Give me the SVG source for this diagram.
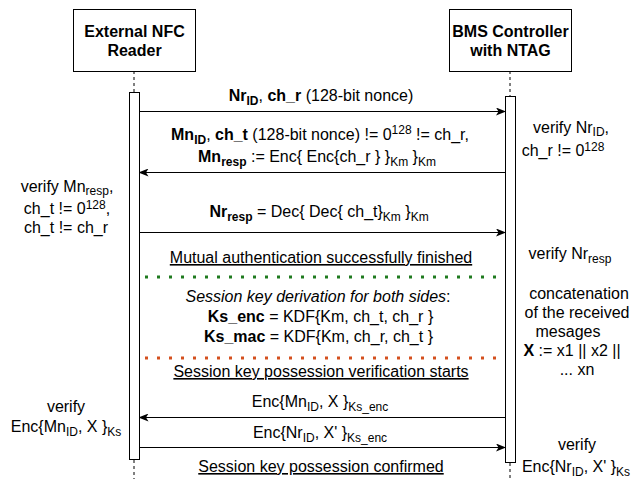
<svg xmlns="http://www.w3.org/2000/svg" width="635" height="479" viewBox="0 0 635 479">
<style>
text{font-family:"Liberation Sans",Arial,sans-serif;font-size:16px;fill:#000}
.c{text-anchor:middle}
.b{font-weight:bold}
.s{font-size:12px}
.u{text-decoration:underline}
.i{font-style:italic}
.box{fill:#fff;stroke:#000;stroke-width:1}
.life{stroke:#000;stroke-width:1;stroke-dasharray:3 3;fill:none}
.msg{stroke:#000;stroke-width:1;fill:none}
</style>
<defs>
<marker id="ah" markerUnits="userSpaceOnUse" markerWidth="10" markerHeight="8" refX="9" refY="4" orient="auto">
<path d="M0,0 L10,4 L0,8 L2.5,4 z" fill="#000"/>
</marker>
</defs>
<g id="reader">
<line class="life" x1="134" y1="71" x2="134" y2="92"/>
<line class="life" x1="134" y1="460" x2="134" y2="479"/>
<rect class="box" x="73.5" y="9.5" width="122" height="62"/>
<text class="c b" x="134.5" y="37">External NFC</text>
<text class="c b" x="134.5" y="56">Reader</text>
<rect class="box" x="129.5" y="92.5" width="10" height="367"/>
</g>
<g id="bms">
<line class="life" x1="510" y1="71" x2="510" y2="96"/>
<line class="life" x1="510" y1="463" x2="510" y2="479"/>
<rect class="box" x="449.5" y="9.5" width="122" height="62"/>
<text class="c b" x="510.5" y="37">BMS Controller</text>
<text class="c b" x="510.5" y="56">with NTAG</text>
<rect class="box" x="505.5" y="96.5" width="10" height="366"/>
</g>
<g id="connectors">
<line class="msg" x1="139.5" y1="111.5" x2="505" y2="111.5" marker-end="url(#ah)"/>
<line class="msg" x1="505" y1="172.5" x2="139.5" y2="172.5" marker-end="url(#ah)"/>
<line class="msg" x1="139.5" y1="232.5" x2="505" y2="232.5" marker-end="url(#ah)"/>
<line x1="145" y1="277" x2="505" y2="277" stroke="#1F7A1F" stroke-width="3" stroke-dasharray="3 9"/>
<line x1="145" y1="358" x2="505" y2="358" stroke="#D4501E" stroke-width="3" stroke-dasharray="3 9"/>
<line class="msg" x1="505" y1="417.5" x2="139.5" y2="417.5" marker-end="url(#ah)"/>
<line class="msg" x1="139.5" y1="447.5" x2="505" y2="447.5" marker-end="url(#ah)"/>
</g>
<g id="labels">
<text class="c" x="321" y="101"><tspan class="b">Nr</tspan><tspan class="b s" dy="4">ID</tspan><tspan dy="-4">, </tspan><tspan class="b">ch_r</tspan> (128-bit nonce)</text>
<text class="c" x="320" y="140"><tspan class="b">Mn</tspan><tspan class="b s" dy="4">ID</tspan><tspan dy="-4">, </tspan><tspan class="b">ch_t</tspan> (128-bit nonce) != 0<tspan class="s" dy="-6">128</tspan><tspan dy="6"> != ch_r,</tspan></text>
<text class="c" x="317" y="162"><tspan class="b">Mn</tspan><tspan class="b s" dy="4">resp</tspan><tspan dy="-4"> := Enc{ Enc{ch_r } }</tspan><tspan class="s" dy="4">Km</tspan><tspan dy="-4"> }</tspan><tspan class="s" dy="4">Km</tspan></text>
<text class="c" x="319" y="217"><tspan class="b">Nr</tspan><tspan class="b s" dy="4">resp</tspan><tspan dy="-4"> = Dec{ Dec{ ch_t}</tspan><tspan class="s" dy="4">Km</tspan><tspan dy="-4"> }</tspan><tspan class="s" dy="4">Km</tspan></text>
<text class="c u" x="321" y="263">Mutual authentication successfully finished</text>
<text class="c" x="318" y="302"><tspan class="i">Session key derivation for both sides</tspan>:</text>
<text class="c" x="320.5" y="322"><tspan class="b">Ks_enc</tspan> = KDF{Km, ch_t, ch_r }</text>
<text class="c" x="318.5" y="342"><tspan class="b">Ks_mac</tspan> = KDF{Km, ch_r, ch_t }</text>
<text class="c u" x="321" y="377">Session key possession verification starts</text>
<text class="c" x="320" y="407">Enc{Mn<tspan class="s" dy="4">ID</tspan><tspan dy="-4">, X }</tspan><tspan class="s" dy="4">Ks_enc</tspan></text>
<text class="c" x="320" y="438">Enc{Nr<tspan class="s" dy="4">ID</tspan><tspan dy="-4">, X' }</tspan><tspan class="s" dy="4">Ks_enc</tspan></text>
<text class="c u" x="321" y="472">Session key possession confirmed</text>
</g>
<g id="notes-left">
<text class="c" x="67" y="192">verify Mn<tspan class="s" dy="3">resp</tspan><tspan dy="-3">,</tspan></text>
<text class="c" x="67" y="214">ch_t != 0<tspan class="s" dy="-5">128</tspan><tspan dy="5">,</tspan></text>
<text class="c" x="66" y="233">ch_t != ch_r</text>
<text class="c" x="66" y="412">verify</text>
<text class="c" x="66" y="432">Enc{Mn<tspan class="s" dy="4">ID</tspan><tspan dy="-4">, X }</tspan><tspan class="s" dy="4">Ks</tspan></text>
</g>
<g id="notes-right">
<text class="c" x="571" y="133">verify Nr<tspan class="s" dy="3">ID</tspan><tspan dy="-3">,</tspan></text>
<text class="c" x="563" y="156">ch_r != 0<tspan class="s" dy="-5">128</tspan></text>
<text class="c" x="570" y="259">verify Nr<tspan class="s" dy="4">resp</tspan></text>
<text class="c" x="579" y="299">concatenation</text>
<text class="c" x="577" y="318">of the received</text>
<text class="c" x="568" y="337">mesages</text>
<text class="c" x="572" y="356"><tspan class="b">X</tspan> := x1 || x2 ||</text>
<text class="c" x="577" y="375">... xn</text>
<text class="c" x="577" y="450">verify</text>
<text class="c" x="576" y="472">Enc{Nr<tspan class="s" dy="4">ID</tspan><tspan dy="-4">, X' }</tspan><tspan class="s" dy="4">Ks</tspan></text>
</g>
</svg>
